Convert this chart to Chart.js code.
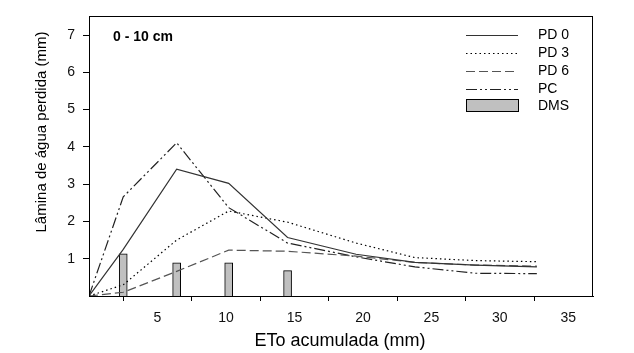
<!DOCTYPE html>
<html>
<head>
<meta charset="utf-8">
<script src="https://cdn.jsdelivr.net/npm/chart.js@4.4.1/dist/chart.umd.min.js"></script>
<style>
    html, body { margin: 0; padding: 0; background: #fff; }
    #wrap { width: 634px; height: 353px; position: relative; }
</style>
</head>
<body>
<div id="wrap"><canvas id="chartLamina"></canvas></div>
<script>
// ETo acumulada (mm) at each reading
const etoAcum = [0, 2.5, 6.4, 10.2, 14.5, 19.5, 23.8, 28.2, 32.7];
// Lámina de água perdida (mm)
const pd0 = [0, 1.25, 3.40, 3.02, 1.57, 1.12, 0.90, 0.83, 0.78];
const pd3 = [0, 0.30, 1.50, 2.28, 1.98, 1.42, 1.03, 0.95, 0.92];
const pd6 = [0, 0.10, 0.66, 1.23, 1.20, 1.07, 0.90, 0.83, 0.80];
const pc  = [0, 2.66, 4.11, 2.37, 1.42, 1.05, 0.78, 0.61, 0.60];
// DMS bars
const dmsX = [2.5, 6.4, 10.2, 14.5];
const dms  = [1.13, 0.89, 0.89, 0.68];
// tick labels
const xTicks = [5, 10, 15, 20, 25, 30, 35];
const yTicks = [1, 2, 3, 4, 5, 6, 7];

const FONT = '"Liberation Sans", Arial, sans-serif';

const series = [
    { label: 'PD 0', values: pd0, color: '#333', dash: [] },
    { label: 'PD 3', values: pd3, color: '#000', dash: [1.5, 3] },
    { label: 'PD 6', values: pd6, color: '#555', dash: [9, 4] },
    { label: 'PC',   values: pc,  color: '#222', dash: [11, 3, 2, 3, 2, 3] }
];

function toPoints(xs, ys) {
    return xs.map((x, i) => ({ x: x, y: ys[i] }));
}

// frame, legend, label and axis titles
const decorations = {
    id: 'decorations',
    afterDraw(chart) {
        const ctx = chart.ctx;
        const a = chart.chartArea;
        ctx.save();

        // box round the plot
        ctx.strokeStyle = '#000';
        ctx.lineWidth = 1;
        ctx.setLineDash([]);
        ctx.strokeRect(Math.round(a.left) + 0.5, Math.round(a.top) + 0.5,
            Math.round(a.right - a.left) - 1, Math.round(a.bottom - a.top));

        // "0 - 10 cm"
        ctx.fillStyle = '#000';
        ctx.font = 'bold 14px ' + FONT;
        ctx.textAlign = 'left';
        ctx.textBaseline = 'middle';
        ctx.fillText('0 - 10 cm', 113, 37);

        // legend
        const rows = [35, 53, 71, 89];
        ctx.font = '14px ' + FONT;
        series.forEach((s, i) => {
            ctx.strokeStyle = s.color;
            ctx.lineWidth = 1.2;
            ctx.setLineDash(s.dash);
            ctx.beginPath();
            ctx.moveTo(466, rows[i] + 0.5);
            ctx.lineTo(518, rows[i] + 0.5);
            ctx.stroke();
            ctx.fillText(s.label, 538, rows[i]);
        });
        ctx.setLineDash([]);
        ctx.fillStyle = '#c0c0c0';
        ctx.fillRect(466.5, 99.5, 52, 12);
        ctx.strokeStyle = '#000';
        ctx.lineWidth = 1;
        ctx.strokeRect(466.5, 99.5, 52, 12);
        ctx.fillStyle = '#000';
        ctx.fillText('DMS', 538, 106);

        // axis titles
        ctx.textAlign = 'center';
        ctx.font = '18px ' + FONT;
        ctx.fillText('ETo acumulada (mm)', 340, 341);
        ctx.translate(42, 132);
        ctx.rotate(-Math.PI / 2);
        ctx.font = '15px ' + FONT;
        ctx.fillText('Lâmina de água perdida (mm)', 0, 0);

        ctx.restore();
    }
};

const lineSets = series.map(s => ({
    type: 'line',
    label: s.label,
    data: toPoints(etoAcum, s.values),
    borderColor: s.color,
    borderWidth: 1.2,
    borderDash: s.dash,
    pointRadius: 0,
    tension: 0,
    fill: false,
    order: 1
}));

new Chart(document.getElementById('chartLamina').getContext('2d'), {
    type: 'line',
    data: {
        datasets: [{
            type: 'bar',
            label: 'DMS',
            data: toPoints(dmsX, dms),
            backgroundColor: '#c0c0c0',
            borderColor: '#000',
            borderWidth: 1,
            barThickness: 8,
            order: 2
        }].concat(lineSets)
    },
    options: {
        responsive: true,
        maintainAspectRatio: false,
        animation: false,
        layout: { padding: { top: 13, right: 41, bottom: 0, left: 0 } },
        plugins: { legend: { display: false }, tooltip: { enabled: false } },
        scales: {
            x: {
                type: 'linear',
                min: 0,
                max: 36.8,
                offset: false,
                afterFit: s => { s.height = 57; },
                afterBuildTicks: s => { s.ticks = xTicks.map(v => ({ value: v })); },
                grid: { drawOnChartArea: false, color: '#000', tickLength: 5 },
                border: { color: '#000' },
                ticks: { color: '#111', padding: 9, maxRotation: 0, font: { family: FONT, size: 14 } }
            },
            y: {
                min: 0,
                max: 7.5,
                afterFit: s => { s.width = 89; },
                afterBuildTicks: s => { s.ticks = yTicks.map(v => ({ value: v })); },
                grid: { drawOnChartArea: false, color: '#000', tickLength: 6 },
                border: { color: '#000' },
                ticks: { color: '#111', padding: 8, font: { family: FONT, size: 14 } }
            }
        }
    },
    plugins: [decorations]
});
</script>
</body>
</html>
